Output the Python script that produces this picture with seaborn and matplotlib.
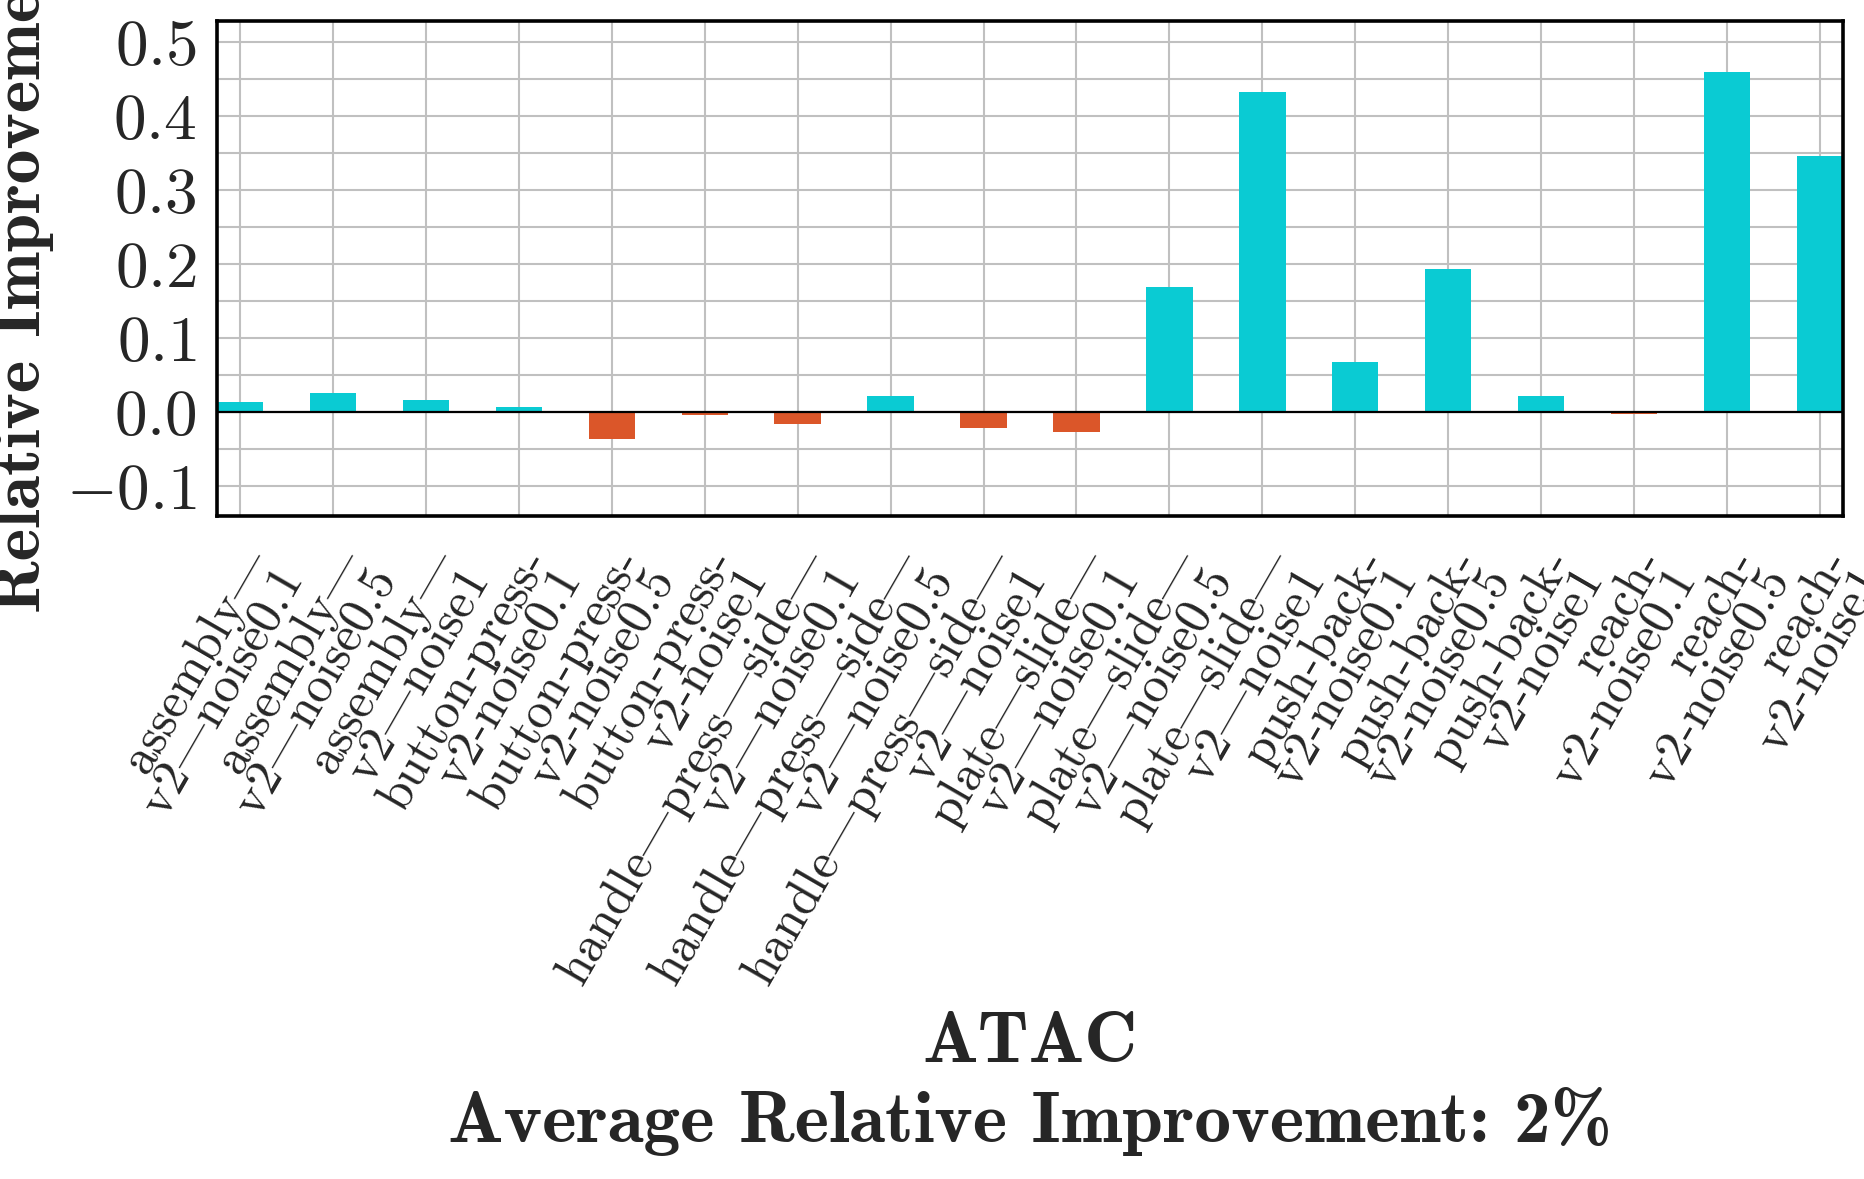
import numpy as np
import pandas as pd
import matplotlib
matplotlib.use("Agg")
import matplotlib.pyplot as plt
import seaborn as sns
from matplotlib.ticker import MultipleLocator

# Data
TASKS = [
    'assembly|\nv2|noise0.1', 'assembly|\nv2|noise0.5', 'assembly|\nv2|noise1',
    'button-press-\nv2-noise0.1', 'button-press-\nv2-noise0.5', 'button-press-\nv2-noise1',
    'handle|press|side|\nv2|noise0.1', 'handle|press|side|\nv2|noise0.5', 'handle|press|side|\nv2|noise1',
    'plate|slide|\nv2|noise0.1', 'plate|slide|\nv2|noise0.5', 'plate|slide|\nv2|noise1',
    'push-back-\nv2-noise0.1', 'push-back-\nv2-noise0.5', 'push-back-\nv2-noise1',
    'reach-\nv2-noise0.1', 'reach-\nv2-noise0.5', 'reach-\nv2-noise1',
]
IMPROVEMENT = [0.0135, 0.026, 0.017, 0.0072, -0.0353, -0.0039,
               -0.0155, 0.0217, -0.0213, -0.0271, 0.1696, 0.4333,
               0.068, 0.194, 0.0227, -0.002, 0.460, 0.3464]
ALGO = 'ATAC'
AVG_TEXT = 'Average Relative Improvement: 2%'

POS_COLOR = '#0ACBD3'
NEG_COLOR = '#DB5629'

sns.set_style('whitegrid')
plt.rcParams['font.family'] = 'cmr10'
plt.rcParams['mathtext.fontset'] = 'cm'
plt.rcParams['axes.formatter.use_mathtext'] = True

df = pd.DataFrame({'task': TASKS, 'improvement': IMPROVEMENT})
colors = [POS_COLOR if v >= 0 else NEG_COLOR for v in IMPROVEMENT]

fig = plt.figure(figsize=(18.65, 11.79), dpi=100)
ax = fig.add_axes([217 / 1865, 1 - 516 / 1179, (1843 - 217) / 1865, (516 - 21) / 1179])

sns.barplot(data=df, x='task', y='improvement', hue='task', palette=colors,
            width=0.5, saturation=1, linewidth=0, legend=False, ax=ax)

ax.axhline(0, color='black', lw=1.6, zorder=3)
ax.set_xlim(-0.25, len(TASKS) - 0.75)
ax.set_ylim(-0.14, 0.529)

ax.yaxis.set_major_locator(MultipleLocator(0.1))
ax.yaxis.set_minor_locator(MultipleLocator(0.05))
ax.set_axisbelow(True)
ax.grid(True, which='both', axis='y', color='#c0c0c0', lw=1.5)
ax.xaxis.grid(True, color='#c0c0c0', lw=1.5)

for side in ['left', 'right', 'top', 'bottom']:
    ax.spines[side].set_visible(True)
    ax.spines[side].set_color('black')
    ax.spines[side].set_linewidth(2.6)

ax.tick_params(axis='both', which='major', direction='out', length=8.5, width=2.2,
               color='#333333')
ax.tick_params(axis='y', which='major', labelsize=47, pad=6)
ax.tick_params(axis='x', which='major', pad=10)
ax.tick_params(axis='y', which='minor', length=0)
ax.set_xticks(range(len(TASKS)))
ax.set_xticklabels(TASKS, fontsize=36.5, rotation=60, ha='right', va='top',
                   rotation_mode='anchor', linespacing=0.75)

ax.set_xlabel(ALGO + '\n' + AVG_TEXT, fontfamily='cmb10', fontsize=53)
ax.xaxis.set_label_coords(0.5, -1.0)
ax.set_ylabel('Relative Improvement', fontfamily='cmb10', fontsize=50)
ax.yaxis.set_label_coords(-0.1, 0.5)

fig.savefig('out.png', dpi=100)
